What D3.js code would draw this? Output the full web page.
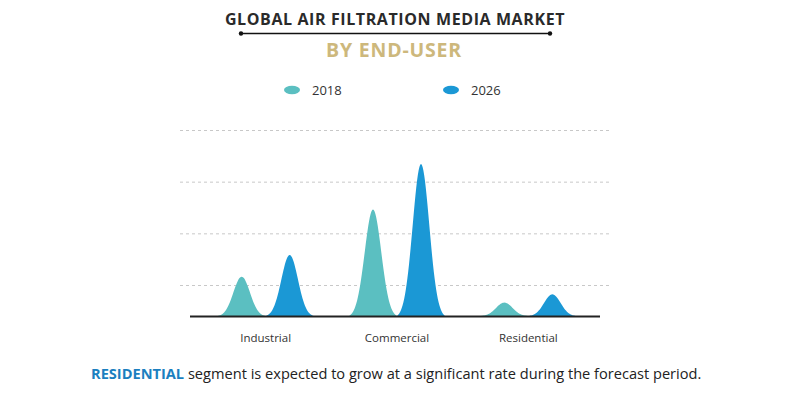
<!DOCTYPE html>
<html><head><meta charset="utf-8">
<script src="https://cdn.jsdelivr.net/npm/d3@7"></script>
<style>body{margin:0;background:#fff}svg{display:block}</style>
</head><body>
<svg id="c" width="790" height="401"></svg>
<script>
const categories = ["Industrial", "Commercial", "Residential"];
const seriesNames = ["2018", "2026"];
const values2018 = [38, 103, 13];
const values2026 = [59, 147, 21];
const gridValues = [30, 80, 130, 180];

const colors = {"2018": "#5bbfc1", "2026": "#1b98d5"};
const svg = d3.select("#c");

// Titles
svg.append("text").attr("x", 395).attr("y", 25).attr("text-anchor", "middle")
  .attr("font-family", "Open Sans").attr("font-weight", 700).attr("font-size", 16)
  .attr("letter-spacing", 0.6)
  .attr("fill", "#2a2a2a").text("GLOBAL AIR FILTRATION MEDIA MARKET");
svg.append("line").attr("x1", 241).attr("x2", 550).attr("y1", 33.5).attr("y2", 33.5)
  .attr("stroke", "#111").attr("stroke-width", 1.3);
[241, 550].forEach(x => svg.append("circle").attr("cx", x).attr("cy", 33.5).attr("r", 2.2).attr("fill", "#111"));
svg.append("text").attr("x", 394).attr("y", 57).attr("text-anchor", "middle")
  .attr("font-family", "Open Sans").attr("font-weight", 700).attr("font-size", 19.5)
  .attr("letter-spacing", 0.8)
  .attr("fill", "#cdb87c").text("BY END-USER");

// Legend
const legendX = [292, 451];
seriesNames.forEach((s, i) => {
  svg.append("ellipse").attr("cx", legendX[i]).attr("cy", 90).attr("rx", 8).attr("ry", 4.2).attr("fill", colors[s]);
  svg.append("text").attr("x", legendX[i] + 20).attr("y", 94.5).attr("font-family", "Open Sans")
    .attr("font-size", 13).attr("fill", "#333").text(s);
});

// Scales
const y = d3.scaleLinear().domain([0, 180]).range([316, 130]);
const x0 = d3.scaleBand().domain(categories).range([200, 594]).padding(0);
const x1 = d3.scaleBand().domain(seriesNames).range([-48, 48]);

// Grid
svg.append("g").selectAll("line").data(gridValues).join("line")
  .attr("x1", 180).attr("x2", 612).attr("y1", d => y(d) + 0.5).attr("y2", d => y(d) + 0.5)
  .attr("stroke", "#c8c8c8").attr("stroke-dasharray", "3,3").attr("stroke-width", 1);

// Peaks
const halfW = 24;
const data = [];
categories.forEach((c, i) => {
  data.push({cat: c, s: "2018", v: values2018[i]});
  data.push({cat: c, s: "2026", v: values2026[i]});
});
function peakPath(d) {
  const cx = x0(d.cat) + x0.bandwidth() / 2 + x1(d.s) + x1.bandwidth() / 2;
  const base = y(0), top = y(d.v);
  const pts = [];
  const n = 60, k = 2.05;
  const e0 = Math.exp(-k * k);
  for (let j = 0; j <= n; j++) {
    const t = -1 + 2 * j / n;
    const g = (Math.exp(-(t * k) * (t * k)) - e0) / (1 - e0);
    pts.push([cx + t * halfW, base - g * (base - top)]);
  }
  return d3.line()(pts) + "Z";
}
svg.append("g").selectAll("path").data(data).join("path")
  .attr("d", peakPath).attr("fill", d => colors[d.s]);

// Baseline
svg.append("line").attr("x1", 190).attr("x2", 600).attr("y1", y(0) + 0.5).attr("y2", y(0) + 0.5)
  .attr("stroke", "#222").attr("stroke-width", 2);

// Category labels
svg.append("g").selectAll("text").data(categories).join("text")
  .attr("x", d => x0(d) + x0.bandwidth() / 2).attr("y", 342).attr("text-anchor", "middle")
  .attr("font-family", "Open Sans").attr("font-size", 11.5).attr("fill", "#333").text(d => d);

// Footer
const foot = svg.append("text").attr("x", 91).attr("y", 378.5).attr("font-family", "Open Sans").attr("font-size", 14.6);
foot.append("tspan").attr("font-weight", 700).attr("fill", "#1b7fc0").text("RESIDENTIAL");
foot.append("tspan").attr("fill", "#222").text(" segment is expected to grow at a significant rate during the forecast period.");
</script>
</body></html>
